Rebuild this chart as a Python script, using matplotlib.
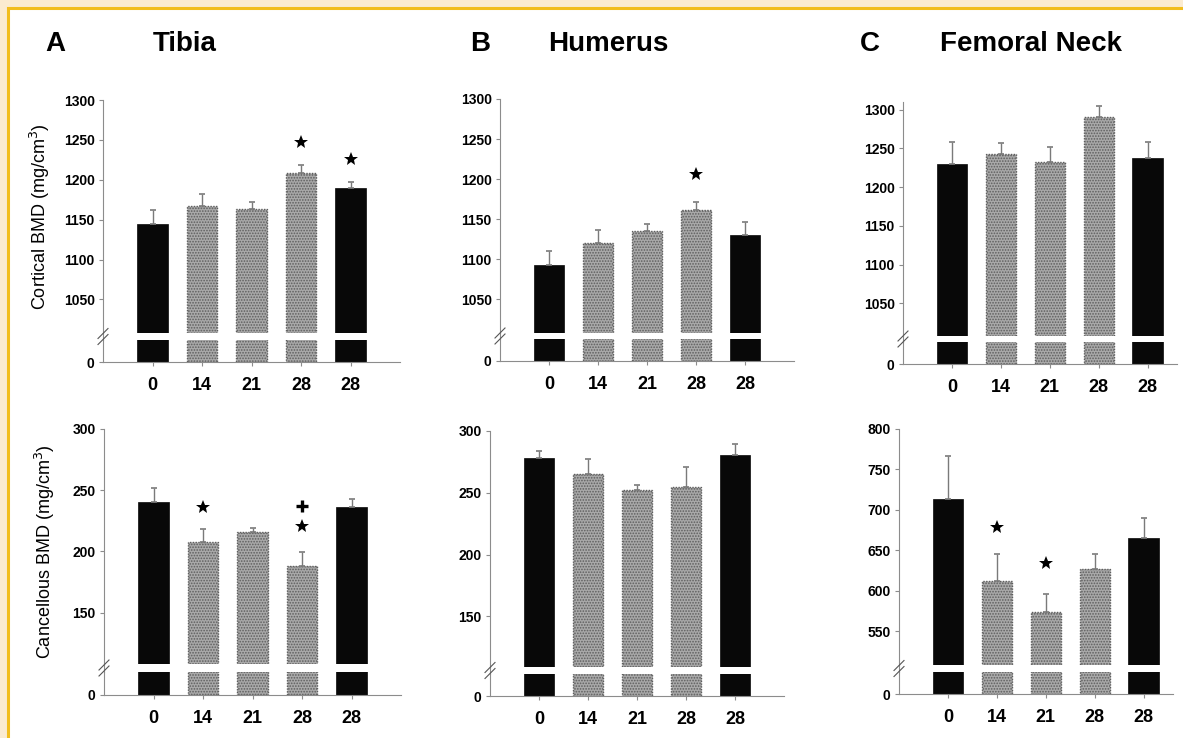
import matplotlib.pyplot as plt
from matplotlib.patches import Rectangle

plt.rcParams['font.family'] = ['Liberation Sans', 'DejaVu Sans']
plt.rcParams['hatch.color'] = "#d2d2d2"
plt.rcParams['hatch.linewidth'] = 0.8

days = ["0", "14", "21", "28", "28"]
bar_kind = ["black", "gray", "gray", "gray", "black"]

tibia_cort = [1144, 1167, 1163, 1209, 1190]
tibia_cort_err = [18, 15, 9, 10, 7]
tibia_canc = [240, 207.5, 215.5, 188, 236]
tibia_canc_err = [12, 10.5, 3.5, 11.5, 7]

humerus_cort = [1093, 1120, 1135, 1161, 1130]
humerus_cort_err = [17, 17, 9, 11, 17]
humerus_canc = [278.5, 265.5, 252, 254.5, 280.5]
humerus_canc_err = [5.5, 11.5, 4.5, 16.5, 9]

femneck_cort = [1230, 1243.5, 1233, 1290.5, 1238]
femneck_cort_err = [28, 13.5, 18.5, 14.5, 20]
femneck_canc = [713.5, 612, 573, 627, 665.5]
femneck_canc_err = [52.5, 33.5, 23, 18.5, 24.5]

# significance marks: (bar index, y, symbol)
tibia_cort_marks = [(3, 1247, "*"), (4, 1226, "*")]
tibia_canc_marks = [(1, 236, "*"), (3, 220.5, "*"), (3, 237, "+")]
humerus_cort_marks = [(3, 1206.5, "*")]
humerus_canc_marks = []
femneck_cort_marks = []
femneck_canc_marks = [(1, 679, "*"), (2, 634.5, "*")]

W, H = 1183, 738
fig = plt.figure(figsize=(W / 100, H / 100), dpi=100)

# page background + yellow frame (top and left edges only)
fig.patches.append(Rectangle((0, 0), 1, 1, transform=fig.transFigure,
                             facecolor="#fbebd0", edgecolor="none", zorder=-10))
fig.patches.append(Rectangle((8 / W, -0.1), 1.2, 1 - 8 / H + 0.1, transform=fig.transFigure,
                             facecolor="white", edgecolor="#f2bd1d", linewidth=2.2, zorder=-9))

spine_col = "#8c8c8c"


def rect(x0, x1, y0, y1):
    return [x0 / W, 1 - y1 / H, (x1 - x0) / W, (y1 - y0) / H]


def px_line(xa, ya, xb, yb, **kw):
    fig.add_artist(plt.Line2D([xa / W, xb / W], [1 - ya / H, 1 - yb / H],
                              transform=fig.transFigure, **kw))


def panel(x0, x1, yt, yb, lt, lb, vals, errs, ylim, yticks, marks, xmax=5):
    up = fig.add_axes(rect(x0, x1, yt, yb))
    lo = fig.add_axes(rect(x0, x1, lt, lb))
    xs = range(len(vals))
    for ax in (up, lo):
        for i in xs:
            if bar_kind[i] == "black":
                ax.bar(i, vals[i], width=0.62, color="#080808", edgecolor="#080808", linewidth=0.5)
            else:
                ax.bar(i, vals[i], width=0.62, color="#a9a9a9", edgecolor="#5e5e5e",
                       linewidth=1.0, linestyle=(0, (1, 1)), hatch="......")
        ax.set_xlim(-1, xmax)
        ax.spines["top"].set_visible(False)
        ax.spines["right"].set_visible(False)
        ax.spines["left"].set_color(spine_col)
        ax.spines["bottom"].set_color(spine_col)
        ax.patch.set_alpha(0)
    up.errorbar(list(xs), vals, yerr=[[0] * len(errs), errs], fmt="none",
                ecolor="#7a7a7a", elinewidth=1.0, capsize=2.5, capthick=1.2)
    up.set_ylim(*ylim)
    up.spines["bottom"].set_visible(False)
    up.set_xticks([])
    up.set_yticks(yticks)
    up.set_yticklabels([str(t) for t in yticks], fontsize=10, fontweight="bold")
    up.tick_params(axis="y", length=3, width=0.8, color=spine_col, pad=3)
    lo.set_ylim(0, 100)
    lo.set_yticks([0])
    lo.set_yticklabels(["0"], fontsize=10, fontweight="bold")
    lo.tick_params(axis="y", length=3, width=0.8, color=spine_col, pad=3)
    lo.set_xticks(list(xs))
    lo.set_xticklabels(days, fontsize=13, fontweight="bold")
    lo.tick_params(axis="x", length=3, width=0.8, color=spine_col, pad=8)
    for i, y, s in marks:
        if s == "*":
            up.plot(i, y, marker="*", color="black", markersize=10, markeredgewidth=0, clip_on=False)
        else:
            up.plot(i, y, marker="+", color="black", markersize=8, markeredgewidth=2.4, clip_on=False)
    # spine through the gap and the // break marks
    px_line(x0, yb, x0, lt, color=spine_col, lw=0.8)
    mid = (yb + lt) / 2
    for dy in (-3, 3):
        px_line(x0 - 5, mid + dy + 5, x0 + 5, mid + dy - 5, color="#555555", lw=0.8)
    return up, lo


panel(103, 400, 100, 333, 340, 362, tibia_cort, tibia_cort_err, (1008, 1300),
      [1050, 1100, 1150, 1200, 1250, 1300], tibia_cort_marks)
panel(104, 401, 429, 664, 672, 695, tibia_canc, tibia_canc_err, (108, 300),
      [150, 200, 250, 300], tibia_canc_marks)
panel(500, 794, 99, 333, 339, 361, humerus_cort, humerus_cort_err, (1008, 1300),
      [1050, 1100, 1150, 1200, 1250, 1300], humerus_cort_marks)
panel(490, 784, 431, 667, 674, 696, humerus_canc, humerus_canc_err, (109, 300),
      [150, 200, 250, 300], humerus_canc_marks)
panel(903, 1177, 102, 336, 342, 364, femneck_cort, femneck_cort_err, (1008, 1310),
      [1050, 1100, 1150, 1200, 1250, 1300], femneck_cort_marks, xmax=4.6)
panel(899, 1173, 429, 665, 672, 694, femneck_canc, femneck_canc_err, (508, 800),
      [550, 600, 650, 700, 750, 800], femneck_canc_marks, xmax=4.6)

# y axis titles
fig.text(40 / W, 1 - 217 / H, "Cortical BMD (mg/cm$^3$)", rotation=90,
         fontsize=13, ha="center", va="center")
fig.text(45 / W, 1 - 552 / H, "Cancellous BMD (mg/cm$^3$)", rotation=90,
         fontsize=13, ha="center", va="center")

# panel headers
for x, s in [(45, "A"), (153, "Tibia"), (470, "B"), (548, "Humerus"), (860, "C"), (940, "Femoral Neck")]:
    fig.text(x / W, 1 - 44 / H, s, fontsize=20, fontweight="bold", va="center", ha="left")

fig.savefig("out.png", dpi=100)
